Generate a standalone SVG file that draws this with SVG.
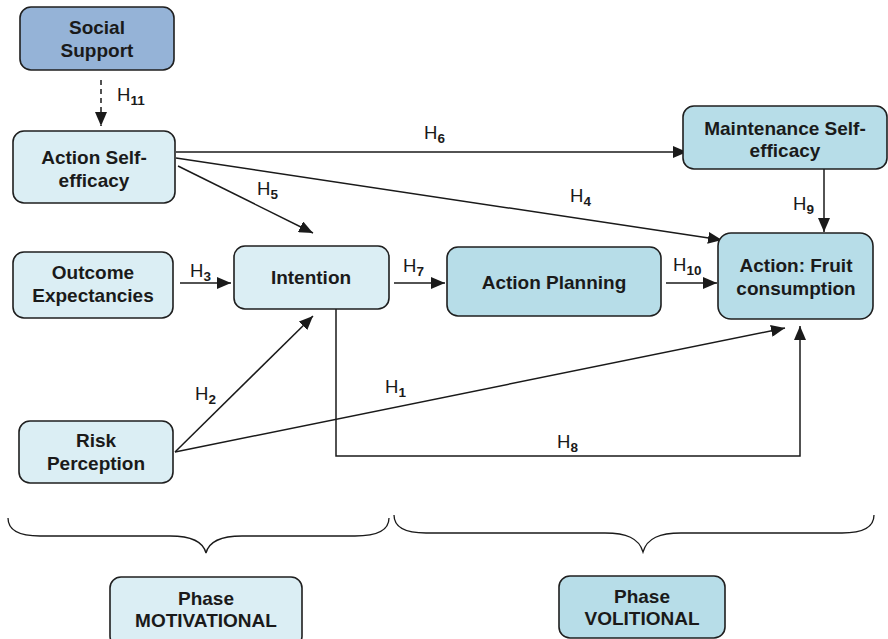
<svg xmlns="http://www.w3.org/2000/svg" width="888" height="639" viewBox="0 0 888 639">
  <style>
    .box { stroke: #1f1f1f; stroke-width: 1.6; }
    .light { fill: #dbeef4; }
    .mid { fill: #b7dde8; }
    .dark { fill: #95b3d7; }
    .lbl { font-family: "Liberation Sans", Arial, sans-serif; font-weight: bold; font-size: 19px; fill: #1a1a1a; text-anchor: middle; }
    .ph { font-family: "Liberation Sans", Arial, sans-serif; font-weight: bold; font-size: 19px; fill: #1a1a1a; text-anchor: middle; }
    .h { font-family: "Liberation Sans", Arial, sans-serif; font-size: 18.5px; fill: #1a1a1a; }
    .sub { font-weight: bold; font-size: 13.5px; }
    .edge { stroke: #1a1a1a; stroke-width: 1.5; fill: none; }
    .brace { stroke: #1a1a1a; stroke-width: 1.3; fill: none; }
  </style>
  <defs>
    <marker id="arrow" viewBox="0 0 14 12" refX="14" refY="6" markerWidth="14" markerHeight="12" markerUnits="userSpaceOnUse" orient="auto">
      <path d="M0,0 L14,6 L0,12 Z" fill="#1a1a1a"/>
    </marker>
  </defs>

  <rect width="888" height="639" fill="#ffffff"/>

  <!-- connectors -->
  <g id="connectors">
    <path class="edge" d="M101,80 V126" stroke-dasharray="5,4" marker-end="url(#arrow)"/>
    <path class="edge" d="M176,152 H687" marker-end="url(#arrow)"/>
    <path class="edge" d="M176,158 L722,240" marker-end="url(#arrow)"/>
    <path class="edge" d="M178,166 L313,233" marker-end="url(#arrow)"/>
    <path class="edge" d="M180,283 H231" marker-end="url(#arrow)"/>
    <path class="edge" d="M394,283 H445" marker-end="url(#arrow)"/>
    <path class="edge" d="M666,283 H717" marker-end="url(#arrow)"/>
    <path class="edge" d="M824,169 V232" marker-end="url(#arrow)"/>
    <path class="edge" d="M175,452 L313,316" marker-end="url(#arrow)"/>
    <path class="edge" d="M175,452 L785,328" marker-end="url(#arrow)"/>
    <path class="edge" d="M336,309 V456 H800 V326" marker-end="url(#arrow)"/>
  </g>

  <!-- hypothesis labels -->
  <g id="labels">
    <text class="h" x="117" y="101">H<tspan class="sub" dy="4">11</tspan></text>
    <text class="h" x="424" y="139">H<tspan class="sub" dy="4">6</tspan></text>
    <text class="h" x="257" y="195">H<tspan class="sub" dy="4">5</tspan></text>
    <text class="h" x="570" y="202">H<tspan class="sub" dy="4">4</tspan></text>
    <text class="h" x="793" y="210">H<tspan class="sub" dy="4">9</tspan></text>
    <text class="h" x="190" y="277">H<tspan class="sub" dy="4">3</tspan></text>
    <text class="h" x="403" y="272">H<tspan class="sub" dy="4">7</tspan></text>
    <text class="h" x="673" y="271">H<tspan class="sub" dy="4">10</tspan></text>
    <text class="h" x="195" y="400">H<tspan class="sub" dy="4">2</tspan></text>
    <text class="h" x="385" y="393">H<tspan class="sub" dy="4">1</tspan></text>
    <text class="h" x="557" y="448">H<tspan class="sub" dy="4">8</tspan></text>
  </g>

  <!-- nodes -->
  <g id="social-support">
    <rect class="box dark" x="20" y="7" width="154" height="63" rx="11"/>
    <text class="lbl" x="97" y="34">Social</text>
    <text class="lbl" x="97" y="57">Support</text>
  </g>
  <g id="action-self-efficacy">
    <rect class="box light" x="13" y="131" width="162" height="72" rx="11"/>
    <text class="lbl" x="94" y="164">Action Self-</text>
    <text class="lbl" x="94" y="187">efficacy</text>
  </g>
  <g id="outcome-expectancies">
    <rect class="box light" x="13" y="252" width="160" height="66" rx="11"/>
    <text class="lbl" x="93" y="279">Outcome</text>
    <text class="lbl" x="93" y="302">Expectancies</text>
  </g>
  <g id="intention">
    <rect class="box light" x="234" y="246" width="155" height="63" rx="11"/>
    <text class="lbl" x="311" y="284">Intention</text>
  </g>
  <g id="risk-perception">
    <rect class="box light" x="19" y="421" width="154" height="62" rx="11"/>
    <text class="lbl" x="96" y="447">Risk</text>
    <text class="lbl" x="96" y="470">Perception</text>
  </g>
  <g id="action-planning">
    <rect class="box mid" x="447" y="247" width="214" height="69" rx="11"/>
    <text class="lbl" x="554" y="289">Action Planning</text>
  </g>
  <g id="maintenance-self-efficacy">
    <rect class="box mid" x="683" y="106" width="204" height="63" rx="11"/>
    <text class="lbl" x="785" y="135">Maintenance Self-</text>
    <text class="lbl" x="785" y="157">efficacy</text>
  </g>
  <g id="action-fruit">
    <rect class="box mid" x="718" y="233" width="155" height="86" rx="13"/>
    <text class="lbl" x="796" y="272">Action: Fruit</text>
    <text class="lbl" x="796" y="295">consumption</text>
  </g>

  <!-- phase braces -->
  <g id="braces">
    <path class="brace" d="M8,518 C8,530 18,536 40,536 H170 C190,536 203,541 206,553 C209,541 222,536 242,536 H355 C377,536 389,530 389,518"/>
    <path class="brace" d="M394,515 C394,527 404,533 426,533 H605 C626,533 639,538 643,552 C647,538 660,533 681,533 H842 C864,533 874,527 874,515"/>
  </g>

  <g id="phase-motivational">
    <rect class="box light" x="110" y="577" width="192" height="70" rx="11"/>
    <text class="ph" x="206" y="605">Phase</text>
    <text class="ph" x="206" y="627">MOTIVATIONAL</text>
  </g>
  <g id="phase-volitional">
    <rect class="box mid" x="559" y="576" width="166" height="62" rx="11"/>
    <text class="ph" x="642" y="603">Phase</text>
    <text class="ph" x="642" y="625">VOLITIONAL</text>
  </g>
</svg>
